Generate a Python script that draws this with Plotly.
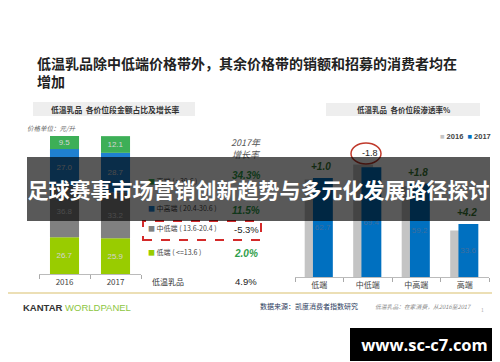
import plotly.graph_objects as go
import numpy as np

W, H = 500, 362


def px(x):
    return x / W


def py(y):
    return 1 - y / H


# ---------------- data ----------------
# Left chart: value share by price tier (%)
years = ['2016', '2017']
seg_names = ['低端', '中低端', '中高端', '高端']
seg_ranges = ['( <=13.6 )', '( 13.6-20.4 )', '( 20.4-30.6 )', '( >30.6 )']
share_2016 = [26.7, 36.8, 27.0, 9.5]
share_2017 = [25.9, 33.2, 28.7, 12.1]
growth_2017 = ['2.0%', '-5.3%', '11.5%', '34.3%']
total_label = '低温乳品'
total_growth = '4.9%'

# Right chart: penetration by price tier (%)
tiers = ['低端', '中低端', '中高端', '高端']
pen_2016 = [61.7, 71.2, 57.4, 29.4]
pen_2017 = [62.7, 69.4, 59.2, 33.6]
pen_change = ['+1.0', '-1.8', '+1.8', '+4.2']

# ---------------- styles ----------------
CJK = 'Noto Sans CJK SC'
seg_colors = ['#99cc00', '#808080', '#1f80d0', '#3daf57']
c2016 = '#c4c4c4'
c2017 = '#0070c0'
green_txt = '#2f9e4a'
dark_green = '#3a7a34'

fig = go.Figure()

# left stacked bars (manual stacking via base, since right chart uses overlay)
s16 = np.array(share_2016)
s17 = np.array(share_2017)
base16 = np.concatenate([[0], np.cumsum(s16)[:-1]])
base17 = np.concatenate([[0], np.cumsum(s17)[:-1]])
for i, name in enumerate(seg_names):
    vals = [s16[i], s17[i]]
    fig.add_trace(go.Bar(
        x=years, y=vals, base=[base16[i], base17[i]],
        marker=dict(color=seg_colors[i], line=dict(width=0)),
        width=0.57, text=[f'{v:.1f}' for v in vals],
        textposition='inside', insidetextanchor='middle', constraintext='none',
        textfont=dict(size=8, color='#d4d4d4', family='Arial'),
        textangle=0, showlegend=False, hoverinfo='skip',
        xaxis='x', yaxis='y', name=name,
    ))

# right overlapped bars
fig.add_trace(go.Bar(
    x=tiers, y=pen_2016, marker=dict(color=c2016, line=dict(width=0)),
    width=0.41, offset=-0.30, showlegend=False, hoverinfo='skip',
    xaxis='x2', yaxis='y2', name='2016',
))
fig.add_trace(go.Bar(
    x=tiers, y=pen_2017, marker=dict(color=c2017, line=dict(width=0)),
    width=0.41, offset=-0.13, text=[f'{v:.1f}' for v in pen_2017],
    textposition='inside', insidetextanchor='middle', constraintext='none',
    textfont=dict(size=8, color='#3f6f9f', family='Arial'), textangle=0,
    showlegend=False, hoverinfo='skip', xaxis='x2', yaxis='y2', name='2017',
))

axis_common = dict(
    type='category', tickson='boundaries', ticks='outside', ticklen=4,
    tickcolor='#aaaaaa', showline=True, linecolor='#bbbbbb', linewidth=1,
    showgrid=False, zeroline=False, fixedrange=True,
    tickfont=dict(size=8, color='#444444', family=CJK),
)

fig.update_layout(
    width=W, height=H, margin=dict(l=0, r=0, t=0, b=0),
    paper_bgcolor='white', plot_bgcolor='rgba(0,0,0,0)',
    barmode='overlay', showlegend=False,
    xaxis=dict(domain=[px(31), px(133)], range=[-0.5, 1.5], anchor='y', **axis_common),
    yaxis=dict(domain=[py(266), py(128)], range=[0, 100], visible=False),
    xaxis2=dict(domain=[px(287), px(481)], range=[-0.5, 3.5], anchor='y2', **axis_common),
    yaxis2=dict(domain=[py(269), py(111)], range=[0, 100], visible=False),
)

shapes = []
# header boxes
shapes.append(dict(type='rect', xref='paper', yref='paper', x0=px(25), x1=px(187),
                   y0=py(108), y1=py(94), fillcolor='#eeeeee', line=dict(width=0), layer='below'))
shapes.append(dict(type='rect', xref='paper', yref='paper', x0=px(318), x1=px(472),
                   y0=py(108), y1=py(95), fillcolor='#eeeeee', line=dict(width=0), layer='below'))
# gold footer line
shapes.append(dict(type='line', xref='paper', yref='paper', x0=0, x1=1,
                   y0=py(285), y1=py(285), line=dict(color='#e6d59c', width=1.5)))
# red dashed highlight box
shapes.append(dict(type='rect', xref='paper', yref='paper', x0=px(135), x1=px(253),
                   y0=py(232), y1=py(213), line=dict(color='#d42a2a', width=2, dash='dash')))
# red ellipse around -1.8
shapes.append(dict(type='circle', xref='paper', yref='paper', x0=px(343), x1=px(373),
                   y0=py(156), y1=py(135), line=dict(color='#c0392b', width=1.5)))
fig.update_layout(shapes=shapes)

ann = []


def text(x, y, s, size, color='#333333', anchor='left', family=CJK, **kw):
    ann.append(dict(xref='paper', yref='paper', x=px(x), y=py(y), text=s, showarrow=False,
                    xanchor=anchor, yanchor='middle', font=dict(size=size, color=color, family=family), **kw))


# title
text(27, 55, '<b>低温乳品除中低端价格带外，其余价格带的销额和招募的消费者均在</b>', 14, '#222222')
text(27, 73, '<b>增加</b>', 14, '#222222')

# panel headers
text(107, 101, '<b>低温乳品  各价位段金额占比及增长率</b>', 7.8, '#333333', 'center')
text(395, 101, '<b>低温乳品  各价位段渗透率%</b>', 7.5, '#333333', 'center')
text(17, 120, '<i>价格单位：元/升</i>', 6.5, '#666666')

# left legend rows with growth
legend_row_y = [244, 220, 200, 173]
growth_row_y = [245, 221, 203, 167]
for i in range(len(seg_names)):
    text(138, legend_row_y[i],
         f'<span style="color:{seg_colors[i]}">■</span> {seg_names[i]} {seg_ranges[i]}',
         7, '#444444')
    g = growth_2017[i]
    if g.startswith('-'):
        text(238, growth_row_y[i], g, 9.5, '#222222', 'center', family='Arial')
    else:
        text(238, growth_row_y[i], f'<b><i>{g}</i></b>', 10, green_txt, 'center', family='Arial')
text(142, 273, total_label, 8, '#333333')
text(238, 273, total_growth, 9.5, '#222222', 'center', family='Arial')
text(238, 134, '<i>2017年</i>', 9, '#555555', 'center')
text(238, 146, '<i>增长率</i>', 9, '#555555', 'center')

# right legend
text(430, 128, f'<b><span style="color:{c2016}">■</span> 2016  <span style="color:{c2017}">■</span> 2017</b>',
     7.5, '#444444', family='Arial')

# change labels above right bars
for i, t in enumerate(tiers):
    top = max(pen_2016[i], pen_2017[i])
    if pen_change[i].startswith('-'):
        lab, col, sz = pen_change[i], '#222222', 9
    else:
        lab, col, sz = f'<b><i>{pen_change[i]}</i></b>', dark_green, 10
    ann.append(dict(xref='x2', yref='y2', x=t, y=top, text=lab, showarrow=False,
                    yshift=11, xshift=2, font=dict(size=sz, color=col, family='Arial')))

# footer
text(13, 299, '<b>KANTAR</b> <span style="color:#8dc63f">WORLDPANEL</span>', 9.5, '#333333',
     family='Liberation Sans')
text(250, 298, '数据来源：凯度消费者指数研究', 7, '#2b3a5c')
text(365, 298, '<i>低温乳品：在家消费，从2016至2017</i>', 5.8, '#888888')
text(474, 301, '1', 5, '#aaaaaa', 'center')

# watermark box
ann.append(dict(xref='paper', yref='paper', x=px(416.5), y=py(336.5), text='<b>www.sc-c7.com</b>',
                showarrow=False, xanchor='center', yanchor='middle', width=149, height=33,
                bgcolor='#000000', borderpad=0, borderwidth=0,
                font=dict(size=16.5, color='white', family='Open Sans')))

# banner overlay (last, so it sits on top of everything)
ann.append(dict(xref='paper', yref='paper', x=px(250.5), y=py(181), text='<b>足球赛事市场营销创新趋势与多元化发展路径探讨</b>',
                showarrow=False, xanchor='center', yanchor='middle', width=463, height=64,
                bgcolor='rgba(0,0,0,0.65)', borderpad=0, borderwidth=0,
                font=dict(size=21, color='white', family=CJK)))

fig.update_layout(annotations=ann)
fig.write_html('out.html')
